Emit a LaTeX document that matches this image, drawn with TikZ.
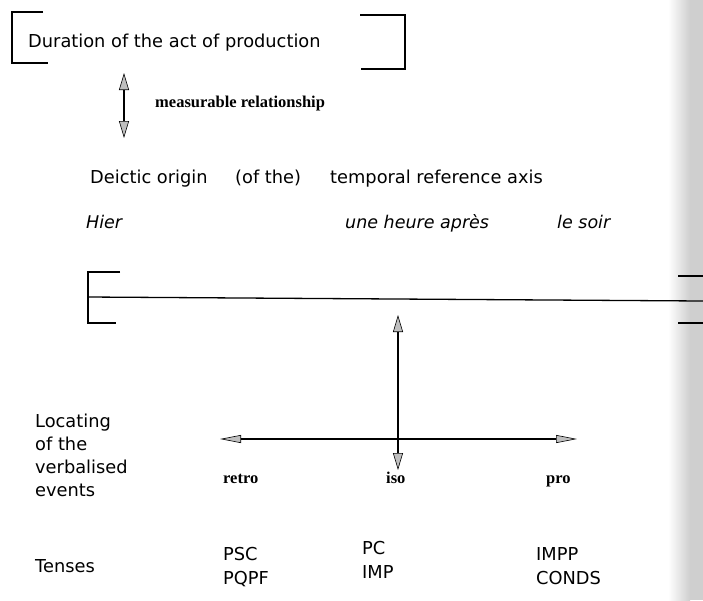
\documentclass[tikz,border=0pt]{standalone}
\usepackage{fontspec}
\setmainfont{DejaVu Sans}
\newfontfamily\serifbody{Liberation Serif}
\usetikzlibrary{arrows.meta}

\begin{document}
\begin{tikzpicture}[x=1pt,y=-1pt,
  lbl/.style={anchor=base west, inner sep=0pt, font=\fontsize{17.8}{21}\selectfont},
  itl/.style={anchor=base west, inner sep=0pt, font=\fontsize{17.5}{21}\selectfont\itshape},
  srf/.style={anchor=base west, inner sep=0pt, font=\serifbody\bfseries\fontsize{16.5}{20}\selectfont},
  bracket/.style={line width=1.4pt},
  axisline/.style={line width=1.3pt},
  vdbl/.style={line width=1.4pt,{Triangle[length=17pt,width=10pt,fill=gray!50,line width=0.6pt]}-{Triangle[length=17pt,width=10pt,fill=gray!50,line width=0.6pt]}},
  hdbl/.style={line width=1.4pt,{Triangle[length=21pt,width=8pt,fill=gray!50,line width=0.6pt]}-{Triangle[length=21pt,width=8pt,fill=gray!50,line width=0.6pt]}}
]
\useasboundingbox (0,0) rectangle (703,600);

% stippled margin band on the right
\shade[left color=white, right color=gray!38] (668,0) rectangle (690,600);
\fill[gray!38] (690,0) rectangle (703,600);

% duration of the act of production, in its open frame
\draw[bracket] (43,12) -- (12,12) -- (12,63) -- (48,63);
\draw[bracket] (360,15) -- (405,15) -- (405,69) -- (361,69);
\node[lbl] (dur) at (28,47) {Duration of the act of production};

% measurable relationship
\coordinate (mTop) at (124,73);
\coordinate (mBot) at (124,138);
\draw[vdbl] (mBot) -- (mTop);
\node[srf] (meas) at (155,107) {measurable relationship};

% temporal reference axis
\node[lbl] (deic) at (90,183) {Deictic origin};
\node[lbl] (ofthe) at (235,183) {(of the)};
\node[lbl] (tempax) at (330,183) {temporal reference axis};
\node[itl] (hier) at (86,228) {Hier};
\node[itl] (heure) at (345,228) {une heure après};
\node[itl] (soir) at (557,228) {le soir};

\coordinate (axL) at (88,297);
\coordinate (axR) at (703,301);
\draw[bracket] (120,272) -- (88,272) -- (88,323) -- (116,323);
\draw[axisline] (axL) -- (axR);
\draw[bracket] (678,276) -- (703,276);
\draw[bracket] (678,323) -- (703,323);

% locating of the verbalised events
\coordinate (isoTop) at (398,315);
\coordinate (isoBot) at (398,470);
\coordinate (retroEnd) at (220,439);
\coordinate (proEnd) at (577,439);
\draw[hdbl] (retroEnd) -- (proEnd);
\draw[vdbl] (isoBot) -- (isoTop);

\node[lbl] (loc1) at (35,427) {Locating};
\node[lbl] (loc2) at (35,450) {of the};
\node[lbl] (loc3) at (35,473) {verbalised};
\node[lbl] (loc4) at (35,496) {events};

\node[srf] (retro) at (223,483) {retro};
\node[srf] (iso) at (386,483) {iso};
\node[srf] (pro) at (546,483) {pro};

% tenses
\node[lbl] (tenses) at (35,572) {Tenses};
\node[lbl] (psc) at (223,560) {PSC};
\node[lbl] (pqpf) at (223,584) {PQPF};
\node[lbl] (pc) at (362,554) {PC};
\node[lbl] (imp) at (362,578) {IMP};
\node[lbl] (impp) at (536,560) {IMPP};
\node[lbl] (conds) at (536,584) {CONDS};
\end{tikzpicture}
\end{document}
